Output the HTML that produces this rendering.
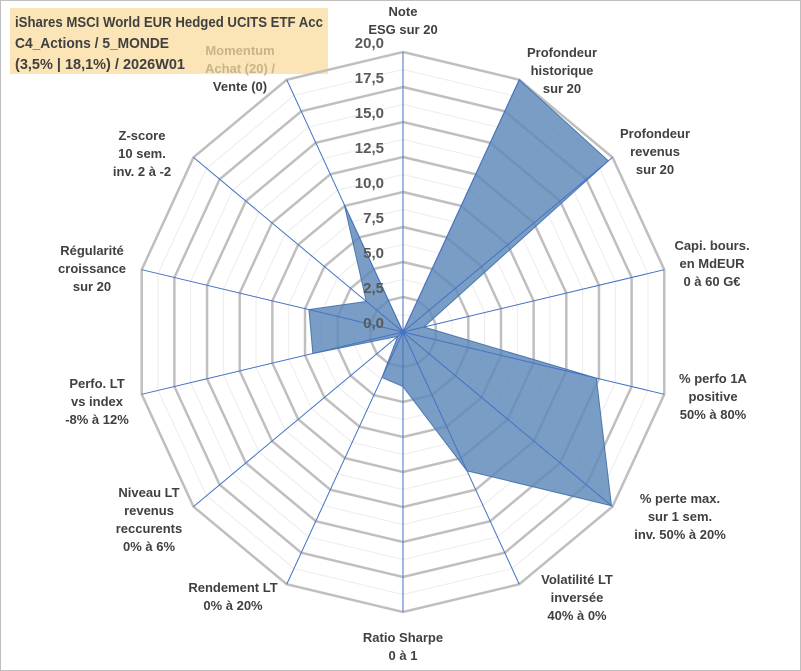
<!DOCTYPE html>
<html><head><meta charset="utf-8"><style>
body{margin:0;background:#fff;}
#wrap{position:relative;width:801px;height:671px;overflow:hidden;font-family:"Liberation Sans",Arial,sans-serif;}
svg text{font-family:"Liberation Sans",Arial,sans-serif;font-weight:bold;}
</style></head><body>
<div id="wrap">
<svg id="chart" width="801" height="671"></svg>
</div>
<script>
const categories=[["Note","ESG sur 20"],["Profondeur","historique","sur 20"],["Profondeur","revenus","sur 20"],["Capi. bours.","en MdEUR","0 à 60 G€"],["% perfo 1A","positive","50% à 80%"],["% perte max.","sur 1 sem.","inv. 50% à 20%"],["Volatilité LT","inversée","40% à 0%"],["Ratio Sharpe","0 à 1"],["Rendement LT","0% à 20%"],["Niveau LT","revenus","reccurents","0% à 6%"],["Perfo. LT","vs index","-8% à 12%"],["Régularité","croissance","sur 20"],["Z-score","10 sem.","inv. 2 à -2"],["Momentum","Achat (20) /","Vente (0)"]];
const values=[0,20,19.6,1.6,14.8,19.9,11,3.9,3.6,0.5,6.9,7.2,3.5,10.1];
const tickLabels=["0,0","2,5","5,0","7,5","10,0","12,5","15,0","17,5","20,0"];
const labelPos=[[403,16],[562,57],[655,138],[712,250],[713,383],[680,503],[577,584],[403,642],[233,592],[149,497],[97,388],[92,255],[142,140],[240,55]];
const cx=403,cy=332,Rx=268,Ry=280,maxV=20,N=categories.length;
const svg=document.getElementById('chart');const NS='http://www.w3.org/2000/svg';
function mk(t,a){const e=document.createElementNS(NS,t);for(const k in a)e.setAttribute(k,a[k]);svg.appendChild(e);return e;}
function pt(i,v){const a=i*2*Math.PI/N;const f=v/maxV;return [cx+f*Rx*Math.sin(a),cy-f*Ry*Math.cos(a)];}
let fr=mk('rect',{x:0.5,y:0.5,width:800,height:670,fill:'#fff',stroke:'#bfbfbf'});


let tb=mk('rect',{x:10,y:8,width:318,height:66,fill:'#fbe5b6'});


for(let k=1;k<=16;k++){const v=k*1.25;const major=k%2==0;
 const pts=[];for(let i=0;i<N;i++)pts.push(pt(i,v).join(','));
 const g=mk('polygon',{points:pts.join(' '),fill:'none',stroke:major?'#bfbfbf':'#ececec','stroke-width':major?2.5:1});
 
 }
const dp=values.map((v,i)=>pt(i,v).join(','));
const poly=mk('polygon',{points:dp.join(' '),fill:'#5b88b8','fill-opacity':0.82,stroke:'#4a78b0','stroke-width':1});


for(let i=0;i<N;i++){const p=pt(i,maxV);const l=mk('line',{x1:cx,y1:cy,x2:p[0],y2:p[1],stroke:'#4472c4','stroke-width':1});
 
 }
tickLabels.forEach((t,k)=>{const y=cy-k*2.5/maxV*Ry;const e=mk('text',{x:384,y:y-4,'text-anchor':'end','font-size':15,fill:'#595959'});e.textContent=t;
 
 });
categories.forEach((c,i)=>{const [x,y]=labelPos[i];const e=mk('text',{x:x,y:y,'text-anchor':'middle','font-size':13,fill:'#404040'});
 c.forEach((s,j)=>{const ts=document.createElementNS(NS,'tspan');ts.setAttribute('x',x);ts.setAttribute('dy',j?18:0);ts.textContent=s;if(i==13&&j<2)ts.setAttribute('fill','#c8b48a');e.appendChild(ts);});
 
 });
const title=["iShares MSCI World EUR Hedged UCITS ETF Acc","C4_Actions / 5_MONDE","(3,5% | 18,1%) / 2026W01"];
const tl=[308,154,170];
title.forEach((s,j)=>{const e=mk('text',{x:15,y:27+j*21,'font-size':15,fill:'#404040',textLength:tl[j],lengthAdjust:'spacingAndGlyphs'});e.style.fontWeight='bold';e.textContent=s;
 
 });
</script>
</body></html>
